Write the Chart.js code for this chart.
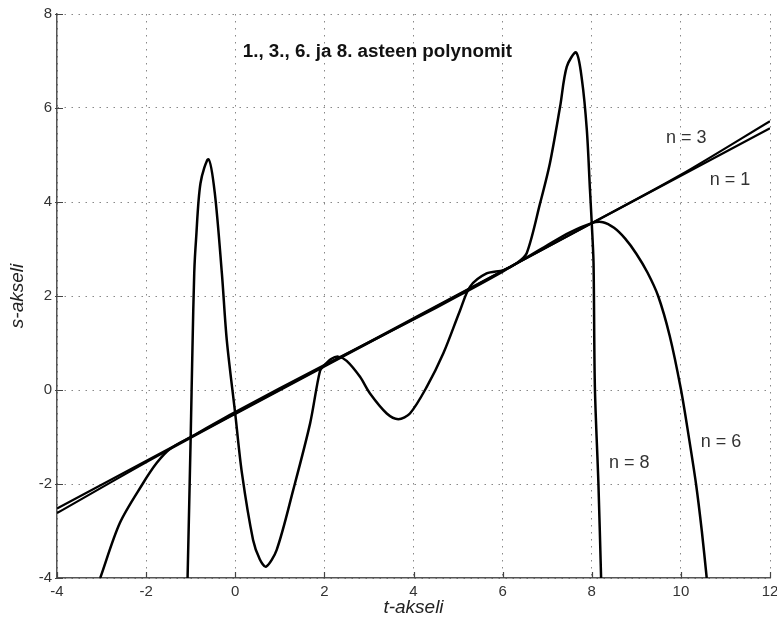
<!DOCTYPE html>
<html>
<head>
<meta charset="utf-8">
<script src="https://cdn.jsdelivr.net/npm/chart.js@4.4.1/dist/chart.umd.min.js"></script>
<style>
  html, body { margin: 0; padding: 0; background: #fff; }
  #wrap { width: 777px; height: 622px; }
</style>
</head>
<body>
<div id="wrap"><canvas id="polyChart"></canvas></div>
<script>
// values
const n1X = [-4, 12];
const n1Y = [-2.52, 5.57];

const n3X = [-4, -2, 0, 2, 4, 6, 8, 10, 12];
const n3Y = [-2.62, -1.54, -0.51, 0.5, 1.51, 2.53, 3.55, 4.58, 5.72];

const n6X = [-3.03, -2.59, -2.08, -1.76, -1.46, -1.0, 0, 2, 4, 5, 6, 7, 7.5, 8.0, 8.25, 8.5, 8.75, 9.0, 9.25, 9.49, 9.75, 10.0, 10.17, 10.34, 10.47, 10.58];
const n6Y = [-4, -2.83, -2.0, -1.55, -1.25, -1.0, -0.47, 0.53, 1.5, 2.0, 2.52, 3.08, 3.35, 3.55, 3.57, 3.45, 3.22, 2.9, 2.5, 2.0, 1.15, 0.02, -0.95, -2.0, -3.0, -4];

const n8X = [-1.07, -1.0, -0.96, -0.92, -0.88, -0.78, -0.6, -0.46, -0.3, -0.19, 0.0, 0.15, 0.4, 0.55, 0.69, 0.93, 1.3, 1.68, 1.9, 2.0, 2.15, 2.31, 2.5, 2.8, 3.02, 3.4, 3.66, 3.92, 4.3, 4.67, 5.04, 5.27, 5.64, 6.02, 6.32, 6.54, 6.84, 7.06, 7.29, 7.44, 7.65, 7.78, 7.89, 7.96, 8.0, 8.04, 8.07, 8.15, 8.21];
const n8Y = [-4, -1.0, 0.9, 2.5, 3.2, 4.4, 4.91, 4.2, 2.48, 1.06, -0.51, -1.77, -3.19, -3.6, -3.76, -3.4, -2.13, -0.71, 0.4, 0.53, 0.66, 0.71, 0.62, 0.28, -0.07, -0.5, -0.62, -0.5, 0.07, 0.78, 1.68, 2.2, 2.48, 2.55, 2.7, 2.91, 3.97, 4.82, 6.03, 6.88, 7.18, 6.6, 5.53, 4.26, 3.55, 2.7, 0.07, -2.0, -4];

const xTicks = [-4, -2, 0, 2, 4, 6, 8, 10, 12];
const yTicks = [-4, -2, 0, 2, 4, 6, 8];

const chartTitle = '1., 3., 6. ja 8. asteen polynomit';
const curveLabels = [
    { text: 'n = 3', x: 10.12, y: 5.36 },
    { text: 'n = 1', x: 11.1, y: 4.47 },
    { text: 'n = 8', x: 8.84, y: -1.55 },
    { text: 'n = 6', x: 10.9, y: -1.11 }
];

const FONT = '"Liberation Sans", Arial, sans-serif';

function pts(xs, ys) {
    return xs.map((x, i) => ({ x: x, y: ys[i] }));
}

function series(label, xs, ys, width) {
    return {
        label: label,
        data: pts(xs, ys),
        showLine: true,
        borderColor: '#000',
        borderWidth: width,
        pointRadius: 0,
        fill: false,
        tension: 0.3
    };
}

// inward tick marks, curve labels and the title inside the plot
const annotate = {
    id: 'annotate',
    afterDatasetsDraw(chart) {
        const ctx = chart.ctx;
        const xs = chart.scales.x, ys = chart.scales.y;
        const a = chart.chartArea;
        ctx.save();
        ctx.strokeStyle = '#444';
        ctx.lineWidth = 1.2;
        ctx.beginPath();
        xTicks.forEach(v => {
            const px = Math.round(xs.getPixelForValue(v)) + 0.5;
            ctx.moveTo(px, a.bottom);
            ctx.lineTo(px, a.bottom - 6);
        });
        yTicks.forEach(v => {
            const py = Math.round(ys.getPixelForValue(v)) + 0.5;
            ctx.moveTo(a.left - 2, py);
            ctx.lineTo(a.left + 6, py);
        });
        ctx.stroke();

        ctx.fillStyle = '#333';
        ctx.font = '18px ' + FONT;
        ctx.textAlign = 'center';
        ctx.textBaseline = 'middle';
        curveLabels.forEach(l => {
            ctx.fillText(l.text, xs.getPixelForValue(l.x), ys.getPixelForValue(l.y));
        });

        ctx.fillStyle = '#111';
        ctx.font = 'bold 18.8px ' + FONT;
        ctx.fillText(chartTitle, xs.getPixelForValue(3.19), ys.getPixelForValue(7.2));
        ctx.restore();
    }
};

const ctx = document.getElementById('polyChart').getContext('2d');
const polyChart = new Chart(ctx, {
    type: 'scatter',
    data: {
        datasets: [
            series('n = 1', n1X, n1Y, 2.2),
            series('n = 3', n3X, n3Y, 2.2),
            series('n = 6', n6X, n6Y, 2.5),
            series('n = 8', n8X, n8Y, 2.5)
        ]
    },
    options: {
        responsive: true,
        maintainAspectRatio: false,
        animation: false,
        layout: {
            padding: { left: 0, top: 14, right: 7, bottom: 0 }
        },
        plugins: {
            legend: { display: false },
            tooltip: { enabled: false }
        },
        scales: {
            x: {
                type: 'linear',
                min: -4,
                max: 12,
                afterBuildTicks(scale) {
                    scale.ticks = xTicks.map(v => ({ value: v }));
                },
                afterFit(scale) {
                    scale.height = 44;
                    scale.paddingLeft = 0;
                    scale.paddingRight = 0;
                },
                grid: {
                    color: '#888',
                    lineWidth: 1,
                    drawTicks: false
                },
                border: {
                    display: true,
                    color: '#555',
                    width: 1.5,
                    dash: [1.5, 5.5]
                },
                ticks: {
                    color: '#333',
                    padding: 5,
                    font: { family: FONT, size: 15 }
                },
                title: {
                    display: true,
                    text: 't-akseli',
                    color: '#222',
                    padding: { top: 0, bottom: 3 },
                    font: { family: FONT, size: 19, style: 'italic' }
                }
            },
            y: {
                type: 'linear',
                min: -4,
                max: 8,
                afterBuildTicks(scale) {
                    scale.ticks = yTicks.map(v => ({ value: v }));
                },
                afterFit(scale) {
                    scale.width = 57;
                    scale.paddingTop = 0;
                    scale.paddingBottom = 0;
                },
                grid: {
                    color: '#888',
                    lineWidth: 1,
                    drawTicks: false
                },
                border: {
                    display: true,
                    color: '#555',
                    width: 1.5,
                    dash: [1.5, 5.5]
                },
                ticks: {
                    color: '#333',
                    padding: 5,
                    font: { family: FONT, size: 15 }
                },
                title: {
                    display: true,
                    text: 's-akseli',
                    color: '#222',
                    padding: { top: 6, bottom: 0 },
                    font: { family: FONT, size: 19, style: 'italic' }
                }
            }
        }
    },
    plugins: [annotate]
});
</script>
</body>
</html>
